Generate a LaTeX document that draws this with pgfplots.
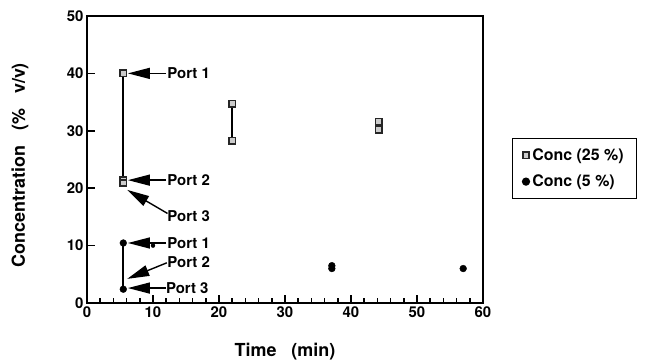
\documentclass[border=0pt]{standalone}
\usepackage{pgfplots}
\pgfplotsset{compat=1.18}
\usepackage{fontspec}
\setmainfont{TeX Gyre Heros}
\usetikzlibrary{arrows.meta}
\begin{document}
\begin{tikzpicture}
\begin{axis}[
  scale only axis, width=396bp, height=287bp,
  xmin=0, xmax=60, ymin=0, ymax=50,
  xtick=\empty, ytick=\empty,
  axis line style={line width=1.6bp},
  xlabel={Time\ \ \ (min)}, ylabel={Concentration\ \ \ (\%\ \ \ v/v)},
  label style={font=\fontsize{18}{20}\selectfont\bfseries},
  xlabel style={at={(rel axis cs:0.5,-0.171)}, anchor=center},
  ylabel style={at={(rel axis cs:-0.169,0.48)}, anchor=center},
  legend style={at={(rel axis cs:1.073,0.575)}, anchor=north west, draw=black, line width=1.4bp,
    font=\fontsize{16}{18}\selectfont, row sep=7bp, inner xsep=10bp, inner ysep=7bp,
    nodes={inner sep=3bp}, cells={anchor=west}},
  legend cell align=left,
  clip=false,
]
\addplot[only marks, mark=square*, mark size=3.2bp, mark options={fill=gray!40, draw=black!85, line width=1.6bp}]
  coordinates {(5.5,40) (5.5,21.4) (5.5,20.9) (22,34.7) (22,28.3) (44.2,31.6) (44.2,30.2)};
\addlegendentry{\bfseries Conc (25 \%)}
\addplot[only marks, mark=*, mark size=3.4bp, mark options={fill=black}]
  coordinates {(5.5,10.45) (5.5,2.4) (37.1,6.5) (37.1,6.0) (57,6.0)};
\addlegendentry{\bfseries Conc (5 \%)}
\addplot[black, line width=1.8bp, forget plot] coordinates {(5.5,40) (5.5,20.9)};
\addplot[black, line width=1.8bp, forget plot] coordinates {(22,34.7) (22,28.3)};
\addplot[black, line width=1.8bp, forget plot] coordinates {(44.2,31.6) (44.2,30.2)};
\addplot[black, line width=1.8bp, forget plot] coordinates {(5.5,10.45) (5.5,2.4)};
% annotations
\tikzset{parr/.style={line width=1.4bp, -{Triangle[length=22bp,width=11bp]}}, plab/.style={anchor=west, inner sep=1bp, font=\fontsize{15}{17}\selectfont\bfseries}}
\draw[parr] (axis cs:12.0,40) -- (axis cs:6.2,40);
\node[plab] at (axis cs:12.0,40) {Port 1};
\draw[parr] (axis cs:12.2,15.6) -- (axis cs:6.1,19.7);
\draw[parr] (axis cs:12.0,21.4) -- (axis cs:6.2,21.4);
\node[plab] at (axis cs:12.0,21.4) {Port 2};
\node[plab] at (axis cs:12.0,15.2) {Port 3};
\draw[parr] (axis cs:12.0,10.45) -- (axis cs:6.2,10.45);
\node[plab] at (axis cs:12.0,10.45) {Port 1};
\draw[parr] (axis cs:12.1,7.0) -- (axis cs:6.1,4.2);
\node[plab] at (axis cs:12.0,7.1) {Port 2};
\draw[parr] (axis cs:11.9,2.6) -- (axis cs:6.2,2.6);
\node[plab] at (axis cs:11.8,2.6) {Port 3};
% page extent
\path (rel axis cs:-0.2197,1.0557) (rel axis cs:1.4167,-0.2091);
\end{axis}
% ticks and tick labels
\begin{axis}[
  scale only axis, width=396bp, height=287bp,
  xmin=0, xmax=60, ymin=0, ymax=50,
  xtick={0,10,...,60}, ytick={0,10,...,50},
  minor x tick num=4,
  axis line style={line width=1.6bp},
  every tick/.append style={line width=1.6bp, draw=black},
  major tick length=8bp, minor tick length=5bp,
  xtick pos=bottom, ytick pos=left, tick align=inside,
  /pgf/number format/assume math mode=true,
  ticklabel style={font=\fontsize{15}{17}\selectfont\bfseries},
]
\addplot[only marks, mark=none, forget plot] coordinates {(10,10)};
\end{axis}
\end{tikzpicture}
\end{document}
